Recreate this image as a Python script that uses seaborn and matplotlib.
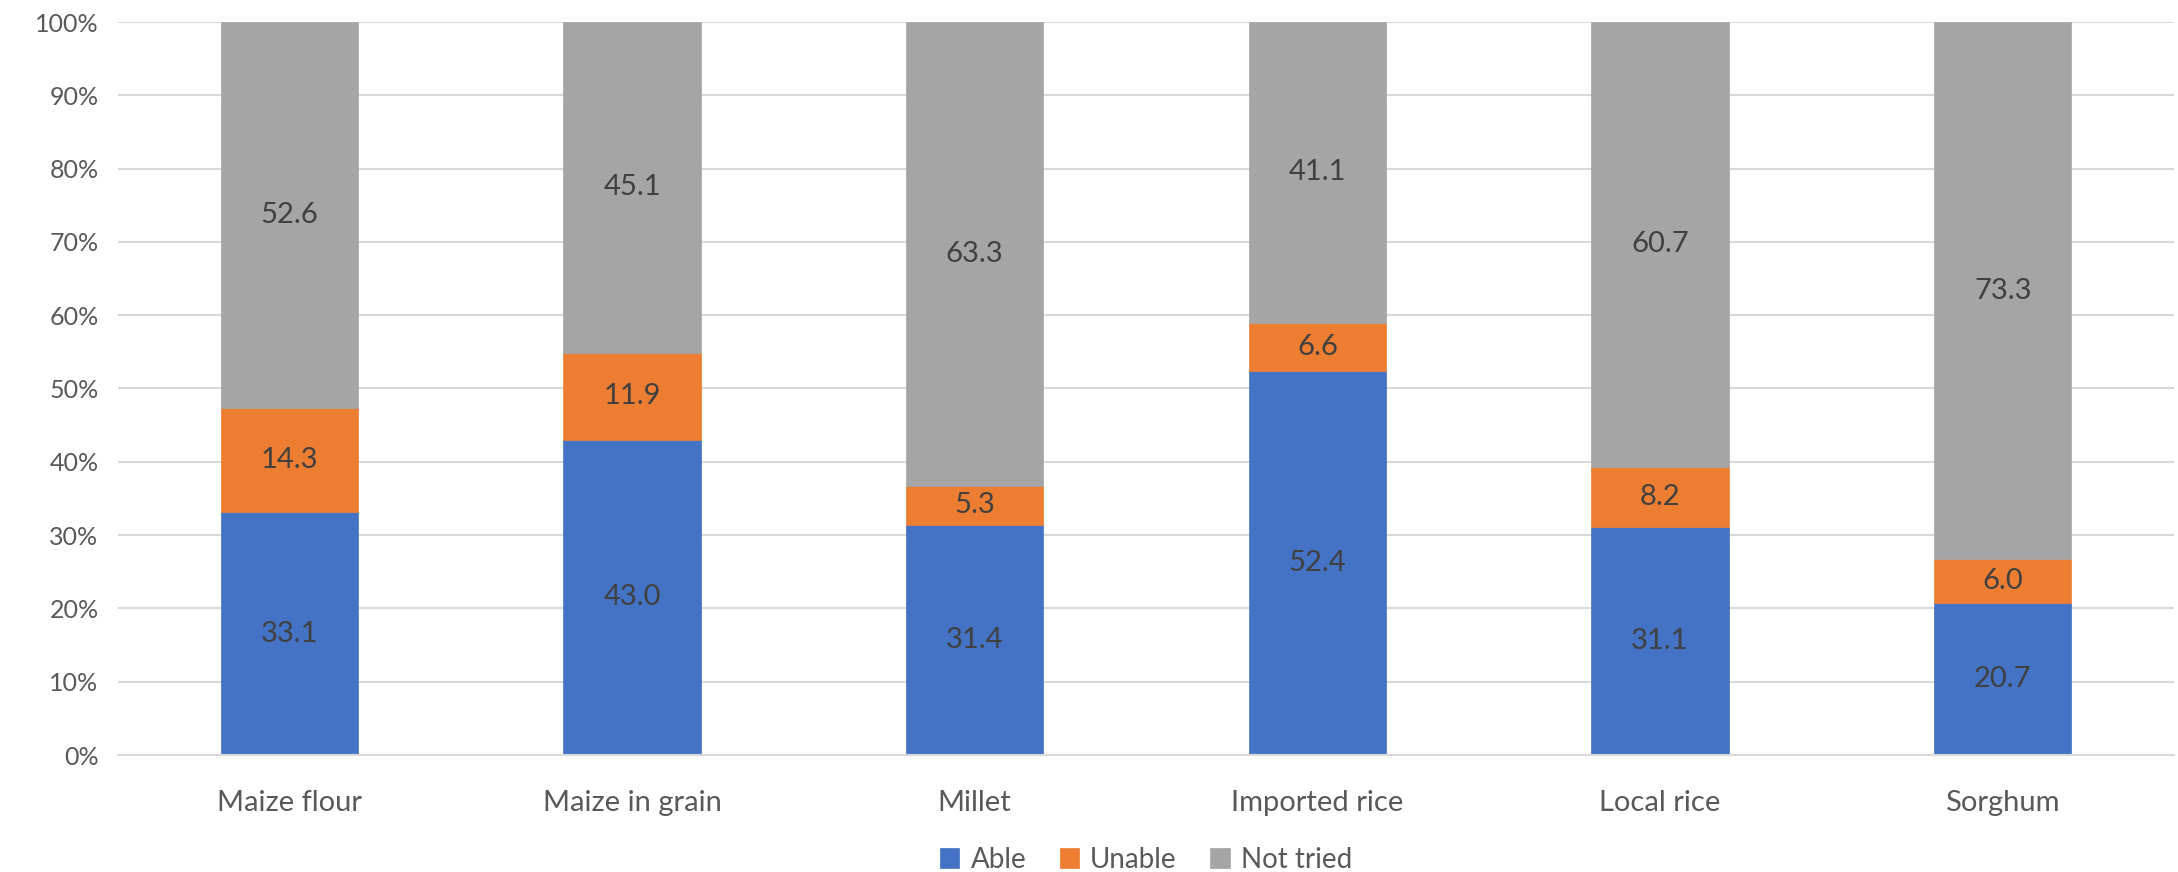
import numpy as np
import pandas as pd
import matplotlib.pyplot as plt
from matplotlib.ticker import PercentFormatter
import seaborn as sns

sns.set_theme(style='white')
plt.rcParams['font.family'] = ['Lato', 'DejaVu Sans']

CATEGORIES = ['Maize flour', 'Maize in grain', 'Millet', 'Imported rice', 'Local rice', 'Sorghum']
ABLE      = [33.1, 43.0, 31.4, 52.4, 31.1, 20.7]
UNABLE    = [14.3, 11.9, 5.3, 6.6, 8.2, 6.0]
NOT_TRIED = [52.6, 45.1, 63.3, 41.1, 60.7, 73.3]

SERIES = [('Able', ABLE, '#4472C4'),
          ('Unable', UNABLE, '#ED7D31'),
          ('Not tried', NOT_TRIED, '#A5A5A5')]

# 100% stacked: normalise each category to its total
totals = np.array(ABLE) + np.array(UNABLE) + np.array(NOT_TRIED)

fig = plt.figure(figsize=(21.78, 8.72), dpi=100)
ax = fig.add_axes([118 / 2178, 1 - 755 / 872, (2174 - 118) / 2178, (755 - 22) / 872])

bottom = np.zeros(len(CATEGORIES))
for name, vals, col in SERIES:
    share = np.array(vals) / totals * 100
    df = pd.DataFrame({'cat': CATEGORIES, 'val': share})
    sns.barplot(data=df, x='cat', y='val', color=col, width=0.4, bottom=bottom,
                ax=ax, label=name, saturation=1, errorbar=None, zorder=2,
                edgecolor=col, linewidth=0.5)
    ax.bar_label(ax.containers[-1], labels=[f'{v:.1f}' for v in vals],
                 label_type='center', fontsize=21, color='#404040')
    bottom = bottom + share

ax.set_ylim(0, 100)
ax.set_xlim(-0.5, len(CATEGORIES) - 0.5)
ax.set_yticks(np.arange(0, 101, 10))
ax.yaxis.set_major_formatter(PercentFormatter(100, decimals=0))
ax.grid(axis='y', color='#D9D9D9', linewidth=1.5, zorder=0)
ax.set_axisbelow(True)
for s in ['top', 'right', 'left']:
    ax.spines[s].set_visible(False)
ax.spines['bottom'].set_color('#D9D9D9')
ax.spines['bottom'].set_linewidth(1.5)
ax.tick_params(axis='both', length=0, labelcolor='#595959')
ax.tick_params(axis='x', pad=25, labelsize=21)
ax.tick_params(axis='y', pad=14, labelsize=18)
ax.set_xlabel('')
ax.set_ylabel('')

ax.legend(loc='center', bbox_to_anchor=(0.5, -0.143), ncol=3, frameon=False,
          fontsize=20, labelcolor='#595959', handlelength=0.7, handleheight=0.7,
          handletextpad=0.4, columnspacing=1.2, borderaxespad=0, borderpad=0)

fig.savefig('out.png', dpi=100)
